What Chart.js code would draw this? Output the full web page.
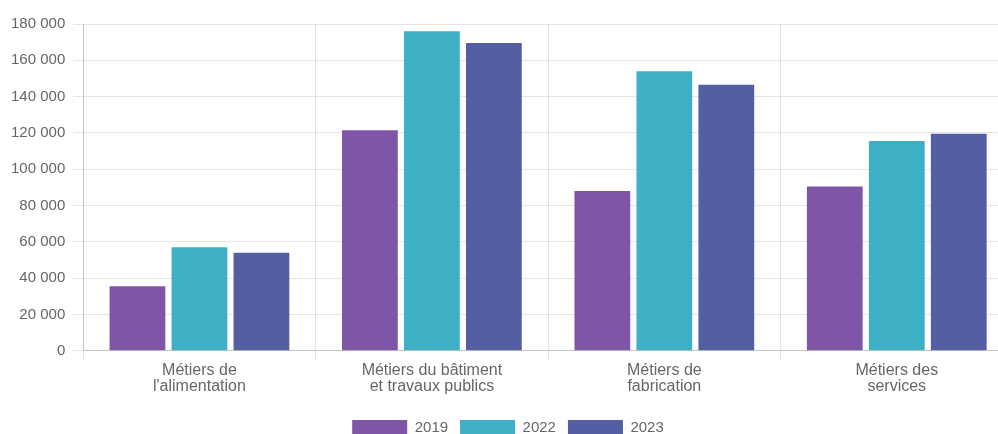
<!DOCTYPE html>
<html>
<head>
<meta charset="utf-8">
<script src="https://cdn.jsdelivr.net/npm/chart.js@4"></script>
<style>
  html, body { margin: 0; padding: 0; background: #fff; overflow: hidden; }
  #wrap { position: relative; width: 1013px; height: 445px; }
</style>
</head>
<body>
<div id="wrap"><canvas id="c"></canvas></div>
<script>
const categories = [
  ["Métiers de", "l'alimentation"],
  ["Métiers du bâtiment", "et travaux publics"],
  ["Métiers de", "fabrication"],
  ["Métiers des", "services"]
];
const seriesNames = ["2019", "2022", "2023"];
const values2019 = [35500, 121500, 88000, 90500];
const values2022 = [57000, 176000, 154000, 115500];
const values2023 = [54000, 169500, 146500, 119500];
const seriesColors = ["#7f56a6", "#3eb0c6", "#545ea2"];

const fmt = v => String(v).replace(/\B(?=(\d{3})+(?!\d))/g, " ");
const FONT = "'Liberation Sans', Arial, sans-serif";

new Chart(document.getElementById("c"), {
  type: "bar",
  data: {
    labels: categories,
    datasets: [values2019, values2022, values2023].map((d, i) => ({
      label: seriesNames[i],
      data: d,
      backgroundColor: seriesColors[i],
      borderWidth: 0
    }))
  },
  options: {
    responsive: true,
    maintainAspectRatio: false,
    animation: false,
    layout: { padding: { top: 24, left: 3, right: 0, bottom: 0 } },
    plugins: {
      legend: {
        position: "bottom",
        title: { display: true, text: " ", font: { size: 1 }, padding: { top: 5, bottom: 4 } },
        labels: {
          boxWidth: 55,
          boxHeight: 15,
          padding: 12,
          color: "#666",
          font: { size: 15, family: FONT }
        }
      },
      tooltip: { enabled: false }
    },
    scales: {
      x: {
        grid: { color: "rgba(0,0,0,0.1)", tickLength: 9, offset: true },
        border: { color: "rgba(0,0,0,0.15)" },
        ticks: {
          color: "#666",
          padding: 3,
          font: { size: 16, lineHeight: 1.0, family: FONT }
        }
      },
      y: {
        min: 0,
        max: 180000,
        grid: { color: "rgba(0,0,0,0.1)", tickLength: 10 },
        border: { color: "rgba(0,0,0,0.15)" },
        ticks: {
          stepSize: 20000,
          color: "#666",
          padding: 8,
          font: { size: 15, family: FONT },
          callback: v => fmt(v)
        }
      }
    }
  }
});
</script>
</body>
</html>
